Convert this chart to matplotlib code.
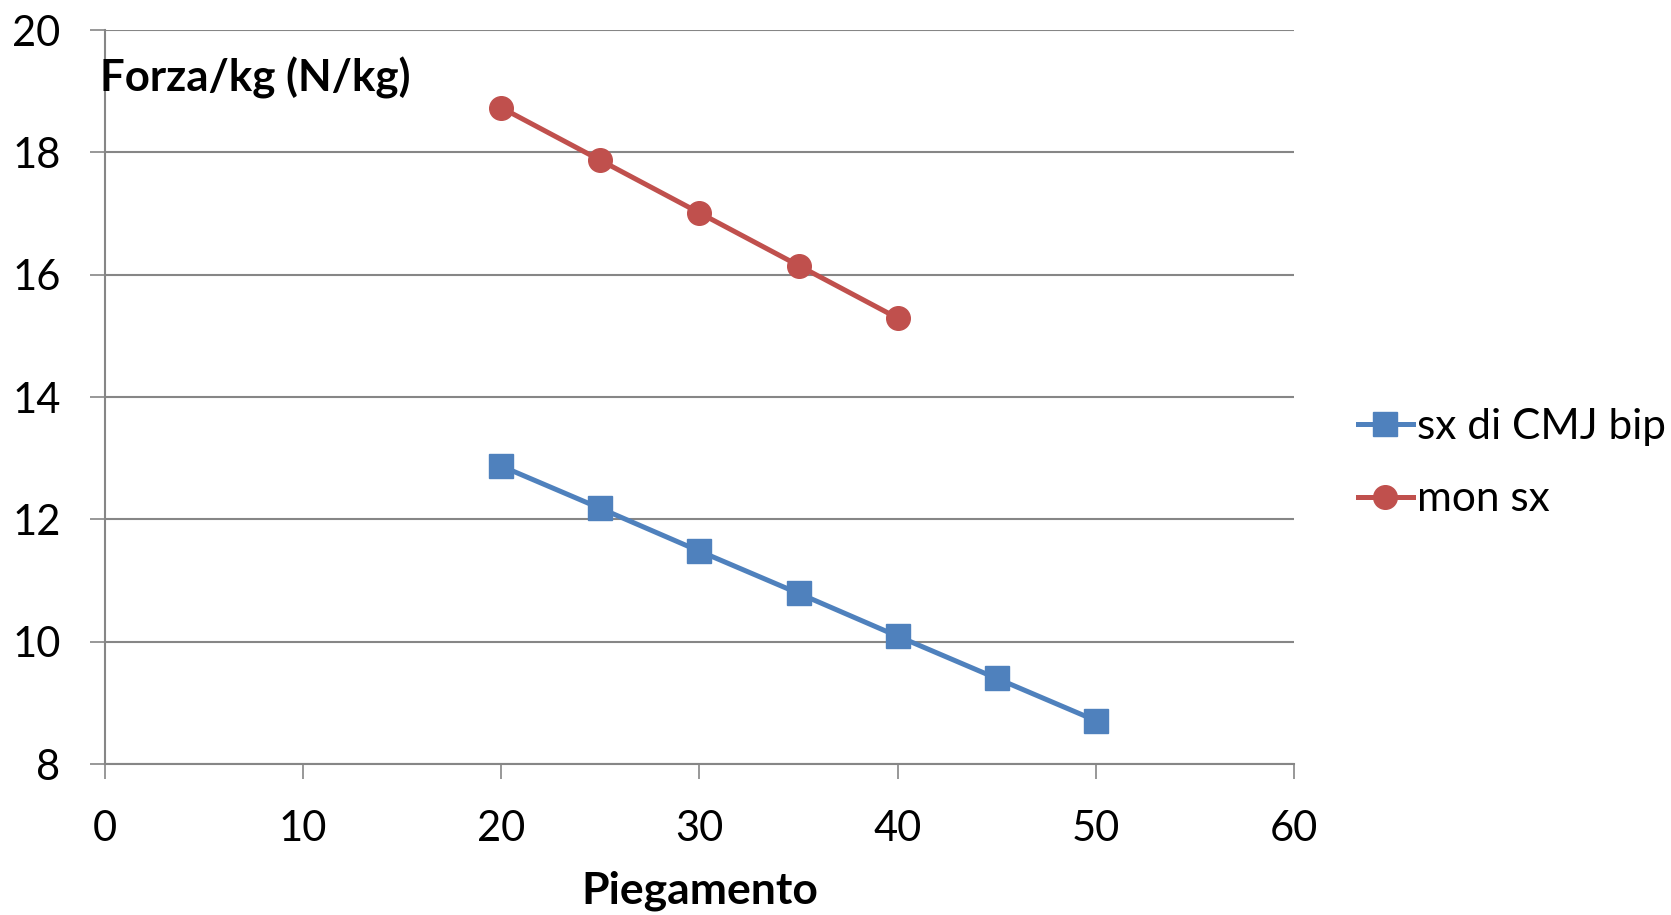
import matplotlib.pyplot as plt

plt.rcParams['font.family'] = ['Lato', 'DejaVu Sans']

piegamento_sx = [20, 25, 30, 35, 40, 45, 50]
forza_sx = [12.87, 12.18, 11.48, 10.79, 10.09, 9.40, 8.71]
piegamento_mon = [20, 25, 30, 35, 40]
forza_mon = [18.73, 17.87, 17.01, 16.15, 15.29]

xticks = [0, 10, 20, 30, 40, 50, 60]
yticks = [8, 10, 12, 14, 16, 18, 20]

blue = '#4F81BD'
red = '#C0504D'
grey = '#868686'

fig = plt.figure(figsize=(16.71, 9.15), dpi=100)
ax = fig.add_axes([0.0628, 0.165, 0.7116, 0.8022])

ax.plot(piegamento_sx, forza_sx, color=blue, lw=3.6, marker='s', ms=17.5,
        label='sx di CMJ bip', zorder=3)
ax.plot(piegamento_mon, forza_mon, color=red, lw=3.6, marker='o', ms=17,
        label='mon sx', zorder=3)

ax.set_xlim(0, 60)
ax.set_ylim(8, 20)
ax.set_xticks(xticks)
ax.set_yticks(yticks)
ax.grid(axis='y', color=grey, lw=1.5)
ax.set_axisbelow(True)

for s in ['top', 'right']:
    ax.spines[s].set_visible(False)
for s in ['left', 'bottom']:
    ax.spines[s].set_color(grey)
    ax.spines[s].set_linewidth(1.5)

ax.tick_params(axis='both', length=11, width=1.2, color=grey, labelsize=30)
ax.tick_params(axis='x', pad=22)
ax.tick_params(axis='y', pad=21)

ax.text(-0.004, 0.935, 'Forza/kg (N/kg)', transform=ax.transAxes, fontsize=31.5,
        fontweight='bold', va='center', ha='left')
ax.set_xlabel('Piegamento', fontsize=32, fontweight='bold', labelpad=16)

fig.legend(loc='center left', bbox_to_anchor=(0.8126, 0.494), frameon=False,
           fontsize=30.5, handlelength=1.3, handletextpad=0.1, labelspacing=0.82,
           borderpad=0, borderaxespad=0)

fig.savefig('out.png', dpi=100)
